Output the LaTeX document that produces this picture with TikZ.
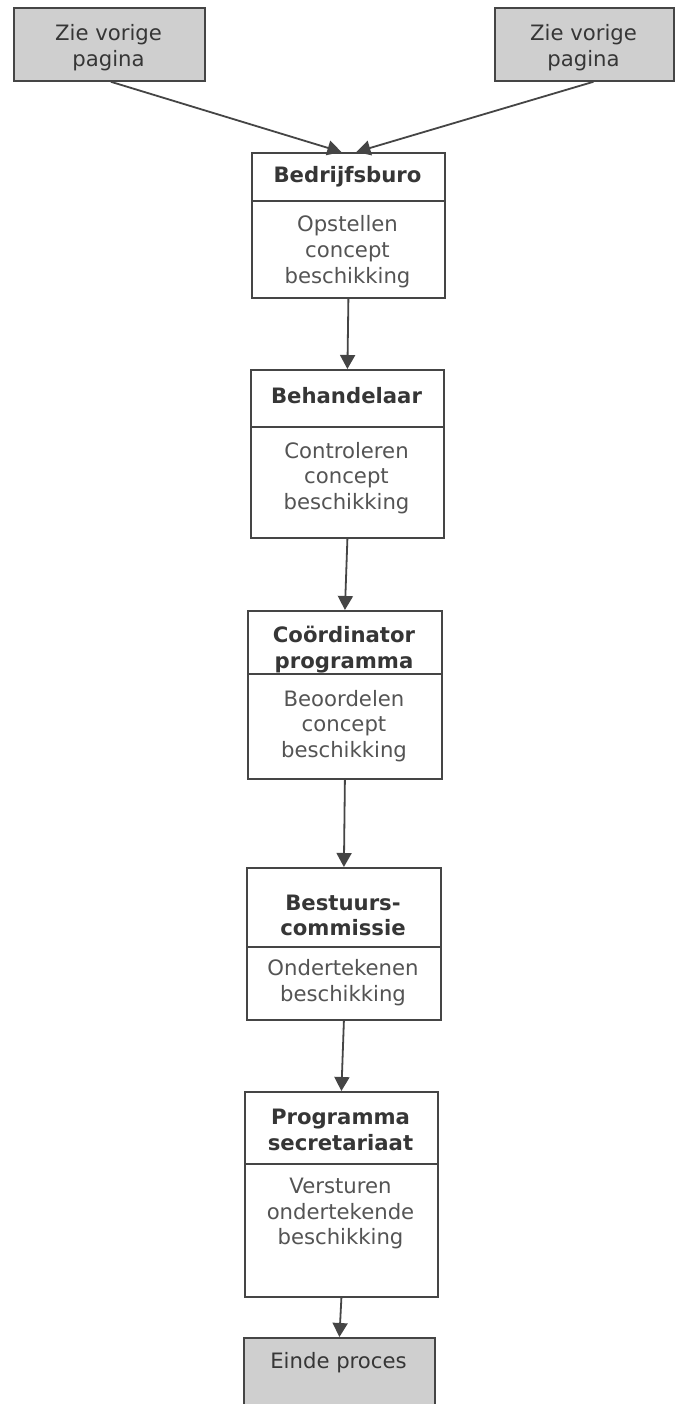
\documentclass[tikz,border=0pt]{standalone}
\usepackage{fontspec}
\setmainfont{DejaVu Sans}
\usetikzlibrary{arrows.meta}
\definecolor{lijn}{HTML}{454545}
\definecolor{donker}{HTML}{363636}
\definecolor{grijs}{HTML}{CFCFCF}
\begin{document}
\begin{tikzpicture}[x=1pt,y=-1pt,
  stap/.style={draw=lijn,line width=1.8pt,rectangle,anchor=north west,inner sep=0pt},
  start/.style={stap,fill=grijs},
  kop/.style={font=\fontsize{21.2}{25.8}\selectfont\bfseries,text=donker,align=center,inner sep=0pt},
  inhoud/.style={font=\fontsize{21.2}{25.8}\selectfont,text=donker!85,align=center,inner sep=0pt},
  pijl/.style={draw=lijn,line width=1.8pt,-{Triangle[length=14pt,width=15pt]}}]
\clip (0,0) rectangle (676,1404);
\fill[white] (0,0) rectangle (676,1404);
% vorige pagina
\node[start,minimum width=191pt,minimum height=73pt] (vorigL) at (13,7) {};
\node[start,minimum width=179pt,minimum height=73pt] (vorigR) at (494,7) {};
\node[inhoud,text=donker] (tvorigL) at (108.5,47.5) {Zie vorige\\pagina};
\node[inhoud,text=donker] (tvorigR) at (583.5,47.5) {Zie vorige\\pagina};
% stappen
\node[stap,minimum width=193pt,minimum height=145pt] (b1) at (251,152) {};
\node[stap,minimum width=193pt,minimum height=168pt] (b2) at (250,369) {};
\node[stap,minimum width=194pt,minimum height=168pt] (b3) at (247,610) {};
\node[stap,minimum width=194pt,minimum height=152pt] (b4) at (246,867) {};
\node[stap,minimum width=193pt,minimum height=205pt] (b5) at (244,1091) {};
\node[start,minimum width=191pt,minimum height=100pt] (eind) at (243,1337) {};
% scheidingslijnen
\draw[draw=lijn,line width=1.8pt] (b1.west |- 0,201) -- (b1.east |- 0,201);
\draw[draw=lijn,line width=1.8pt] (b2.west |- 0,427) -- (b2.east |- 0,427);
\draw[draw=lijn,line width=1.8pt] (b3.west |- 0,674) -- (b3.east |- 0,674);
\draw[draw=lijn,line width=1.8pt] (b4.west |- 0,947) -- (b4.east |- 0,947);
\draw[draw=lijn,line width=1.8pt] (b5.west |- 0,1164) -- (b5.east |- 0,1164);
% teksten
\node[kop] (k1) at (347.5,177) {Bedrijfsburo};
\node[inhoud] (t1) at (347.5,251.5) {Opstellen\\concept\\beschikking};
\node[kop] (k2) at (346.5,396) {Behandelaar};
\node[inhoud] (t2) at (346.5,478) {Controleren\\concept\\beschikking};
\node[kop] (k3) at (344,649.5) {Coördinator\\programma};
\node[inhoud] (t3) at (344,726) {Beoordelen\\concept\\beschikking};
\node[kop] (k4) at (343,915.5) {Bestuurs-\\commissie};
\node[inhoud] (t4) at (343,982.5) {Ondertekenen\\beschikking};
\node[kop] (k5) at (340.5,1130) {Programma\\secretariaat};
\node[inhoud] (t5) at (340.5,1213.5) {Versturen\\ondertekende\\beschikking};
\node[inhoud,text=donker] (teind) at (338.5,1363) {Einde proces};
% pijlen
\draw[pijl] ([xshift=1.5pt]vorigL.south) -- ([xshift=-7pt]b1.north);
\draw[pijl] ([xshift=9pt]vorigR.south) -- ([xshift=8pt]b1.north);
\draw[pijl] (b1.south) -- (b2.north);
\draw[pijl] (b2.south) -- (b3.north);
\draw[pijl] (b3.south) -- (b4.north);
\draw[pijl] (b4.south) -- (b5.north);
\draw[pijl] (b5.south) -- (eind.north);
\end{tikzpicture}
\end{document}
